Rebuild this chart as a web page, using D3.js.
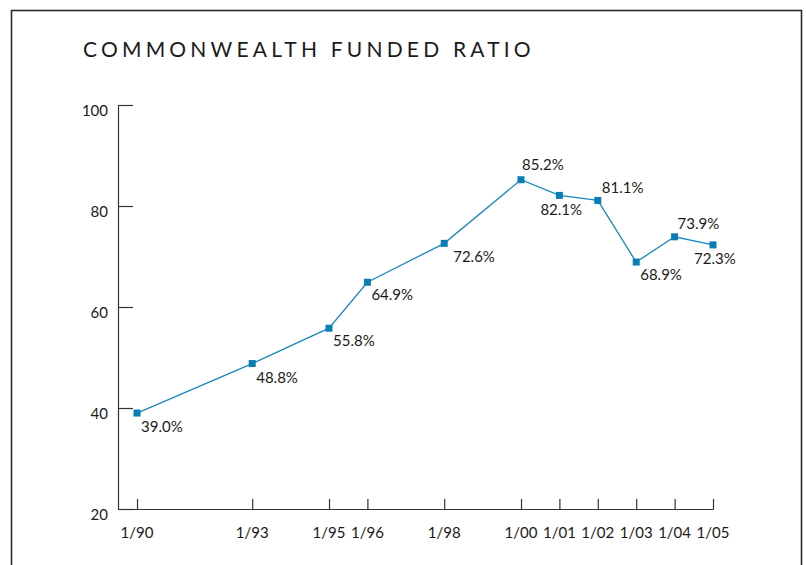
<!DOCTYPE html>
<html>
<head>
<meta charset="utf-8">
<script src="https://cdn.jsdelivr.net/npm/d3@7"></script>
<style>
  body { margin: 0; background: #fff; }
  svg text { font-family: Lato, "Open Sans", sans-serif; fill: #1c1a1b; }
</style>
</head>
<body>
<svg id="chart" width="806" height="565"></svg>
<script>
// data
var years = [1990, 1993, 1995, 1996, 1998, 2000, 2001, 2002, 2003, 2004, 2005];
var ratios = [39.0, 48.8, 55.8, 64.9, 72.6, 85.2, 82.1, 81.1, 68.9, 73.9, 72.3];
var tickLabels = ["1/90", "1/93", "1/95", "1/96", "1/98", "1/00", "1/01", "1/02", "1/03", "1/04", "1/05"];
var yTicks = [20, 40, 60, 80, 100];

// where each value label sits relative to its point
var labelOffsets = [
  [4, 19], [4, 19], [4, 18], [4, 18], [9, 19], [1, -10],
  [-19, 20], [4, -7], [4, 18], [3, -8], [-19, 19]
];

var svg = d3.select("#chart");

// frame round the chart (open at the bottom, it runs off the page)
svg.append("rect")
  .attr("x", 11.5).attr("y", 10.5)
  .attr("width", 790).attr("height", 600)
  .attr("fill", "none")
  .attr("stroke", "#2b2b2b")
  .attr("stroke-width", 1.6);

svg.append("text")
  .attr("x", 83).attr("y", 57)
  .style("font-size", "21px")
  .style("letter-spacing", "4.2px")
  .text("COMMONWEALTH FUNDED RATIO");

var x = d3.scaleLinear().domain([1990, 2005]).range([137, 713]);
var y = d3.scaleLinear().domain([20, 100]).range([509, 105]);

var axisColor = "#333";

// y axis line and inward ticks
svg.append("line")
  .attr("x1", 118.5).attr("x2", 118.5)
  .attr("y1", y(100)).attr("y2", y(20))
  .attr("stroke", axisColor).attr("stroke-width", 1.2);

svg.selectAll(".ytick").data(yTicks).enter().append("line")
  .attr("x1", 118).attr("x2", 133)
  .attr("y1", function(d) { return y(d) + 0.5; })
  .attr("y2", function(d) { return y(d) + 0.5; })
  .attr("stroke", axisColor).attr("stroke-width", 1.2);

// tick labels sit a little below their ticks in the original
svg.selectAll(".ylab").data(yTicks).enter().append("text")
  .attr("x", 108)
  .attr("y", function(d) { return y(d) + 11; })
  .attr("text-anchor", "end")
  .style("font-size", "15px")
  .text(function(d) { return d; });

// x axis
svg.append("line")
  .attr("x1", 118).attr("x2", x(2005) + 0.5)
  .attr("y1", 509.5).attr("y2", 509.5)
  .attr("stroke", axisColor).attr("stroke-width", 1.2);

svg.selectAll(".xtick").data(years).enter().append("line")
  .attr("x1", function(d) { return x(d) + 0.5; })
  .attr("x2", function(d) { return x(d) + 0.5; })
  .attr("y1", 499).attr("y2", 509.5)
  .attr("stroke", axisColor).attr("stroke-width", 1.2);

svg.selectAll(".xlab").data(years).enter().append("text")
  .attr("x", function(d) { return x(d); })
  .attr("y", 538)
  .attr("text-anchor", "middle")
  .style("font-size", "15px")
  .text(function(d, i) { return tickLabels[i]; });

// the series
var pts = years.map(function(yr, i) { return [yr, ratios[i]]; });

svg.append("path")
  .datum(pts)
  .attr("fill", "none")
  .attr("stroke", "#1b87bf")
  .attr("stroke-width", 1.3)
  .attr("d", d3.line()
    .x(function(d) { return x(d[0]); })
    .y(function(d) { return y(d[1]); }));

svg.selectAll(".mark").data(pts).enter().append("rect")
  .attr("x", function(d) { return x(d[0]) - 3.5; })
  .attr("y", function(d) { return y(d[1]) - 3.5; })
  .attr("width", 7).attr("height", 7)
  .attr("fill", "#0a7db5");

svg.selectAll(".vlab").data(pts).enter().append("text")
  .attr("x", function(d, i) { return x(d[0]) + labelOffsets[i][0]; })
  .attr("y", function(d, i) { return y(d[1]) + labelOffsets[i][1]; })
  .style("font-size", "15px")
  .text(function(d) { return d[1].toFixed(1) + "%"; });
</script>
</body>
</html>
